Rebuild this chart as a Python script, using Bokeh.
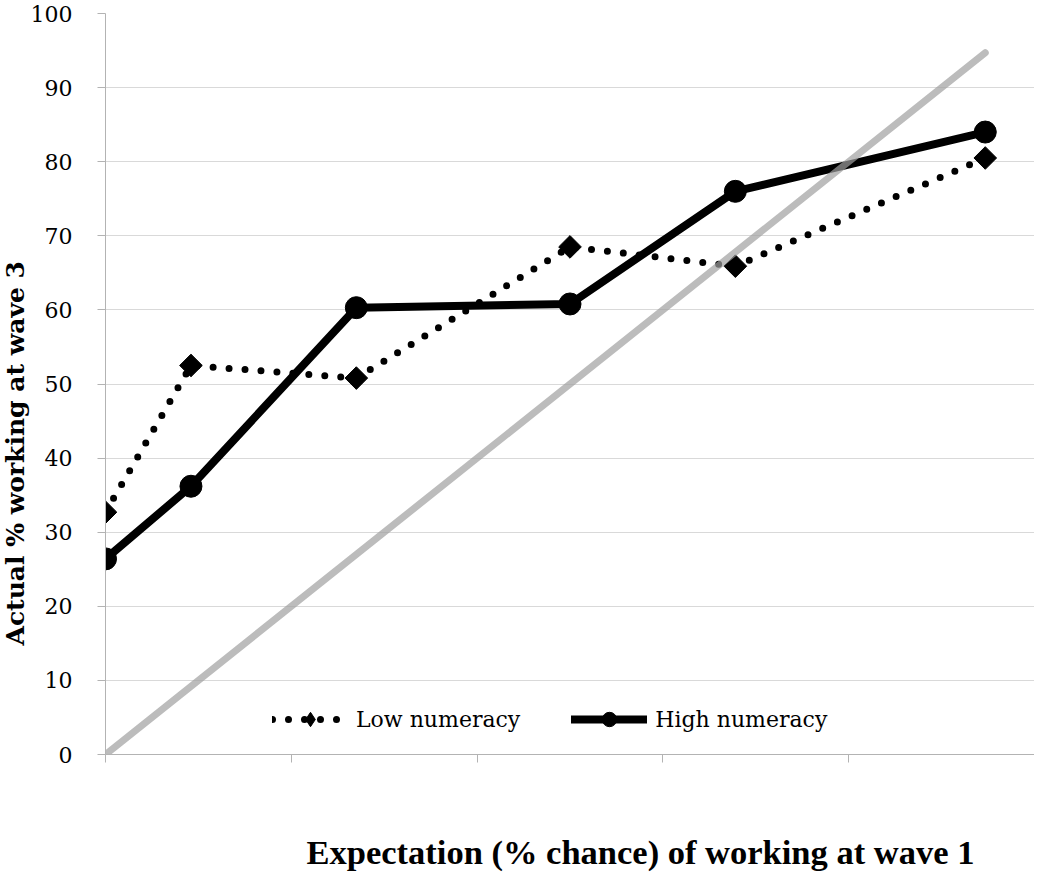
import math
from bokeh.plotting import figure
from bokeh.models import Range1d, FixedTicker, Legend, LegendItem, Title, LinearAxis
from bokeh.embed import file_html
from bokeh.resources import INLINE

# ---- data ----
expectation = [0.0, 9.2, 27.0, 50.0, 67.8, 94.7]
low_numeracy = [32.7, 52.5, 50.8, 68.5, 65.9, 80.5]
high_numeracy = [26.4, 36.2, 60.3, 60.8, 76.0, 84.0]
diag_x = [0.0, 94.7]
diag_y = [0.0, 94.7]
y_ticks = [0, 10, 20, 30, 40, 50, 60, 70, 80, 90, 100]
x_ticks = [0, 20, 40, 60, 80, 100]
series_names = ["Low numeracy", "High numeracy"]
x_title = "Expectation (% chance) of  working at wave 1"
y_title = "Actual % working at wave 3"

p = figure(width=1034, height=877,
           x_range=Range1d(0, 100), y_range=Range1d(0, 100),
           output_backend="svg", toolbar_location=None,
           min_border_left=104, min_border_right=0,
           min_border_top=13, min_border_bottom=123)

p.outline_line_color = None
p.background_fill_color = "white"
p.border_fill_color = "white"
p.xgrid.visible = False
p.ygrid.grid_line_color = "#d9d9d9"
p.ygrid.grid_line_width = 1

axis_gray = "#b3b3b3"
p.yaxis.ticker = FixedTicker(ticks=y_ticks)
p.xaxis.ticker = FixedTicker(ticks=x_ticks)
for ax in (p.xaxis, p.yaxis):
    ax.axis_line_color = axis_gray
    ax.axis_line_width = 1
    ax.major_tick_line_color = axis_gray
    ax.major_tick_in = 0
    ax.major_tick_out = 8
    ax.minor_tick_line_color = None
p.yaxis.major_label_text_font = "DejaVu Serif"
p.yaxis.major_label_text_font_size = "22px"
p.yaxis.major_label_text_color = "black"
p.yaxis.major_label_standoff = 25
# x axis has no tick labels
p.xaxis.major_label_text_color = None
p.xaxis.major_label_text_font_size = "2px"
p.xaxis.major_label_standoff = 0

# invisible spacer band between the x axis and its title
spacer = LinearAxis(ticker=FixedTicker(ticks=x_ticks), axis_line_color=None,
                    major_tick_line_color=None, minor_tick_line_color=None,
                    major_tick_in=0, major_tick_out=68,
                    major_label_text_color=None, major_label_text_font_size="2px",
                    major_label_standoff=0)
p.add_layout(spacer, "below")

# low numeracy: dotted line + diamonds
low_line = p.line(expectation, low_numeracy, line_color="black", line_width=7,
                  line_dash="0 16", line_cap="round")
# diamond key (hidden under the rotated squares, shown in the legend)
low_key = p.scatter(expectation, low_numeracy, marker="diamond", size=16,
                    fill_color="black", line_color="black")
p.scatter(expectation, low_numeracy, marker="square", size=16,
          angle=math.pi / 4, fill_color="black", line_color="black")

# high numeracy: thick solid line + circles
high_line = p.line(expectation, high_numeracy, line_color="black", line_width=8,
                   line_join="round", line_cap="round")
high_pts = p.scatter(expectation, high_numeracy, marker="circle", size=22,
                     fill_color="black", line_color="black")

# diagonal reference line
p.line(diag_x, diag_y, line_color="#a0a0a0", line_alpha=0.7, line_width=7,
       line_cap="round")

legend = Legend(items=[LegendItem(label=series_names[0], renderers=[low_line, low_key]),
                       LegendItem(label=series_names[1], renderers=[high_line, high_pts])],
                location=(167, 17), orientation="horizontal",
                glyph_width=76, glyph_height=36, label_height=36,
                label_standoff=8, spacing=51, padding=0, margin=0,
                border_line_alpha=0, background_fill_alpha=0,
                label_text_font="DejaVu Serif", label_text_font_size="22px",
                label_text_color="black")
p.add_layout(legend)

p.add_layout(Title(text=x_title, align="left", offset=201, standoff=0,
                   text_font="Liberation Serif", text_font_style="bold",
                   text_font_size="34.5px", text_color="black"), "below")
p.add_layout(Title(text=y_title, align="left", offset=109, standoff=-4,
                   text_font="DejaVu Serif", text_font_style="bold",
                   text_font_size="25px", text_color="black"), "left")

open("out.html", "w").write(file_html(p, INLINE))
